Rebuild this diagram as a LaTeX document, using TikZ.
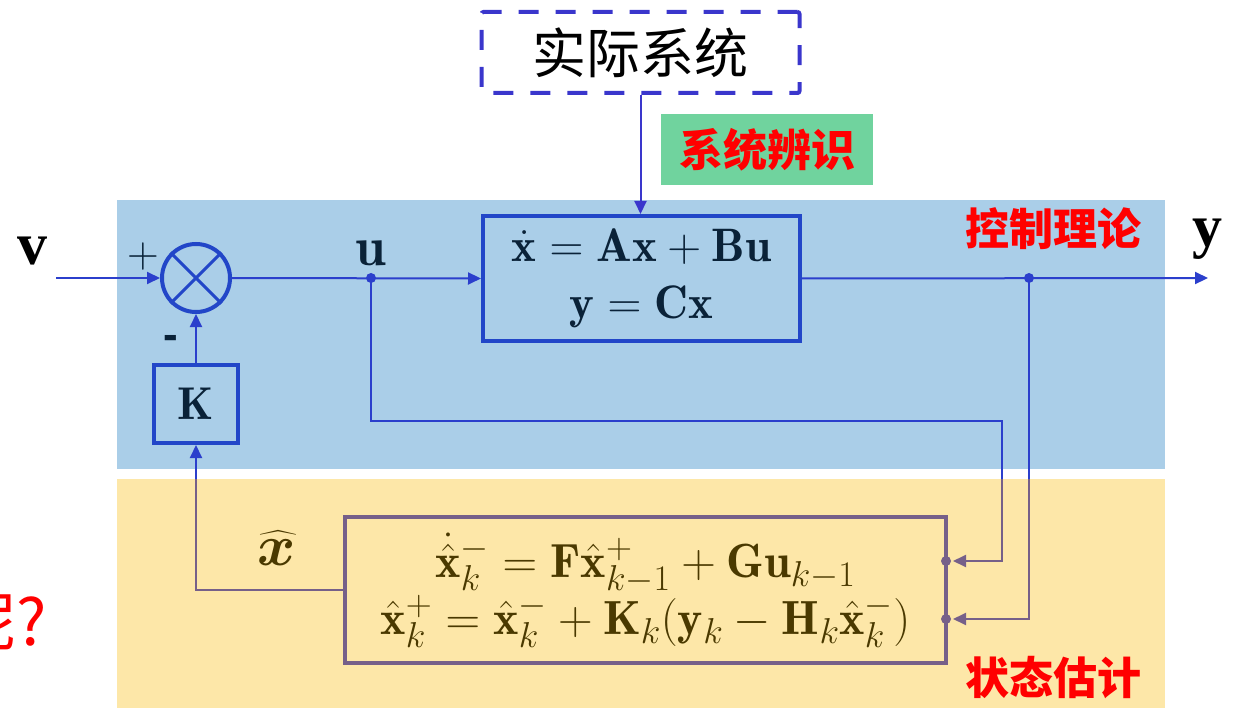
\documentclass[tikz,border=0pt]{standalone}
\usepackage{fix-cm}
\usepackage{amsmath,bm}
\usepackage{fontspec}
\newfontfamily\cjk{Noto Sans CJK SC}
\newfontfamily\timesf{Liberation Serif}
\newfontfamily\sansf{Liberation Sans}
\usetikzlibrary{arrows.meta,calc}
\DeclareMathSizes{48}{48}{36}{27}
\DeclareMathSizes{47}{47}{35}{26}
\definecolor{bgblue}{HTML}{AACEE8}
\definecolor{bgyellow}{HTML}{FDE7A8}
\definecolor{boxblue}{HTML}{2246C8}
\definecolor{lineblue}{HTML}{2B3FCC}
\definecolor{dashblue}{HTML}{3A36CC}
\definecolor{epurple}{HTML}{766089}
\definecolor{navy}{HTML}{0A2238}
\definecolor{olivetxt}{HTML}{4A3900}
\definecolor{idgreen}{HTML}{70D39E}
\begin{document}
\begin{tikzpicture}[x=1pt,y=-1pt,
  bl/.style={draw=lineblue, line width=2pt},
  pl/.style={draw=epurple, line width=2pt},
  arr/.style={-{Triangle[length=13pt,width=12pt]}},
  mainbox/.style={draw=boxblue, line width=4pt, inner sep=0pt, text=navy},
  redlab/.style={text=red, font=\cjk\bfseries\fontsize{44}{44}\selectfont, inner sep=0pt},
  biglat/.style={font=\timesf\bfseries\fontsize{60}{60}\selectfont, inner sep=0pt, anchor=base},
  dotb/.style={circle, fill=lineblue, inner sep=0pt, minimum size=10pt},
  dotp/.style={circle, fill=epurple, inner sep=0pt, minimum size=10pt}]
\useasboundingbox (0,0) rectangle (1238,708);
% backgrounds
\fill[bgblue] (117,200) rectangle (1165,469);
\fill[bgyellow] (117,479) rectangle (1165,708);

% nodes
\node[draw=dashblue, line width=4pt, dash pattern=on 20pt off 17pt, rounded corners=2pt,
  minimum width=318pt, minimum height=81pt, inner sep=0pt,
  font=\cjk\fontsize{54}{54}\selectfont] (sys) at (640.5,52.5) {实际系统};
\node[fill=idgreen, minimum width=212pt, minimum height=71pt, redlab] (sid) at (767,149.5) {系统辨识};
\node[mainbox, minimum width=317pt, minimum height=125pt, align=center,
  font=\fontsize{47}{57}\selectfont] (ss) at (641.5,278.5)
  {$\dot{\mathbf{x}}=\mathbf{Ax}+\mathbf{Bu}$\\$\mathbf{y}=\mathbf{Cx}$};
\node[mainbox, minimum width=84pt, minimum height=78pt, font=\fontsize{46}{46}\selectfont] (K) at (196,404) {$\mathbf{K}$};
\node[circle, draw=boxblue, line width=4pt, minimum size=68pt, inner sep=0pt] (sum) at (196,278) {};
\draw[boxblue, line width=3pt] (sum.45) -- (sum.225) (sum.135) -- (sum.315);
\node[draw=epurple, line width=4pt, minimum width=601pt, minimum height=146pt, inner sep=0pt, align=center,
  text=olivetxt, font=\fontsize{48}{57}\selectfont] (est) at (645.5,590)
  {$\dot{\hat{\mathbf{x}}}_k^{-}=\mathbf{F}\hat{\mathbf{x}}_{k-1}^{+}+\mathbf{G}\mathbf{u}_{k-1}$\\
   $\hat{\mathbf{x}}_k^{+}=\hat{\mathbf{x}}_k^{-}+\mathbf{K}_k(\mathbf{y}_k-\mathbf{H}_k\hat{\mathbf{x}}_k^{-})$};

% labels
\node[biglat] (vl) at (32,265) {v};
\node[biglat] (yl) at (1207,247) {y};
\node[anchor=base, inner sep=0pt, text=navy, font=\fontsize{55}{55}\selectfont] (ul) at (371,266) {$\mathbf{u}$};
\node[anchor=base, inner sep=0pt, text=navy, font=\fontsize{44}{44}\selectfont] (plus) at (143,268) {$+$};
\node[anchor=base, inner sep=0pt, text=navy, font=\sansf\bfseries\fontsize{44}{44}\selectfont] (minus) at (171,349) {-};
\node[anchor=base, inner sep=0pt, text=olivetxt, font=\fontsize{58}{58}\selectfont] (xh) at (277,565) {$\widehat{\boldsymbol{x}}$};
\node[redlab] (ct) at (1053,229) {控制理论};
\node[redlab] (se) at (1053,678) {状态估计};
\node[anchor=east, inner sep=0pt, text=red, font=\cjk\fontsize{64}{64}\selectfont] (q) at (47,622) {呢?};

% coordinates
\coordinate (vin) at (56,278);
\coordinate (uj) at (371,278);
\coordinate (yj) at (1029,278);
\coordinate (yout) at (1208,278);
\coordinate (ub1) at (1002,421);
\coordinate (ub2) at (1002,479);
\coordinate (yb) at (1029,479);
\coordinate (xb) at (196,479);
\coordinate (e1) at ($(est.east)+(0,-29)$);
\coordinate (e2) at ($(est.east)+(0,29)$);

% connectors
\draw[draw=dashblue, line width=2pt, arr] (sys.south) -- (sys.south |- ss.north);
\draw[bl, arr] (vin) -- (sum.west);
\draw[bl, arr] (sum.east) -- (ss.west);
\draw[bl, arr] (K.north) -- (sum.south);
\draw[bl, arr] (ss.east) -- (yout);
\draw[bl] (uj) |- (ub1) -- (ub2);
\draw[pl, arr, shorten >=5pt] (ub2) |- (e1);
\draw[bl] (yj) -- (yb);
\draw[pl, arr, shorten >=5pt] (yb) |- (e2);
\draw[pl] (est.west) -| (xb);
\draw[bl, arr] (xb) -- (K.south);
\node[dotb] at (uj) {};
\node[dotb] at (yj) {};
\node[dotp] at ($(e1)+(-2,0)$) {};
\node[dotp] at ($(e2)+(-2,0)$) {};
\end{tikzpicture}
\end{document}
